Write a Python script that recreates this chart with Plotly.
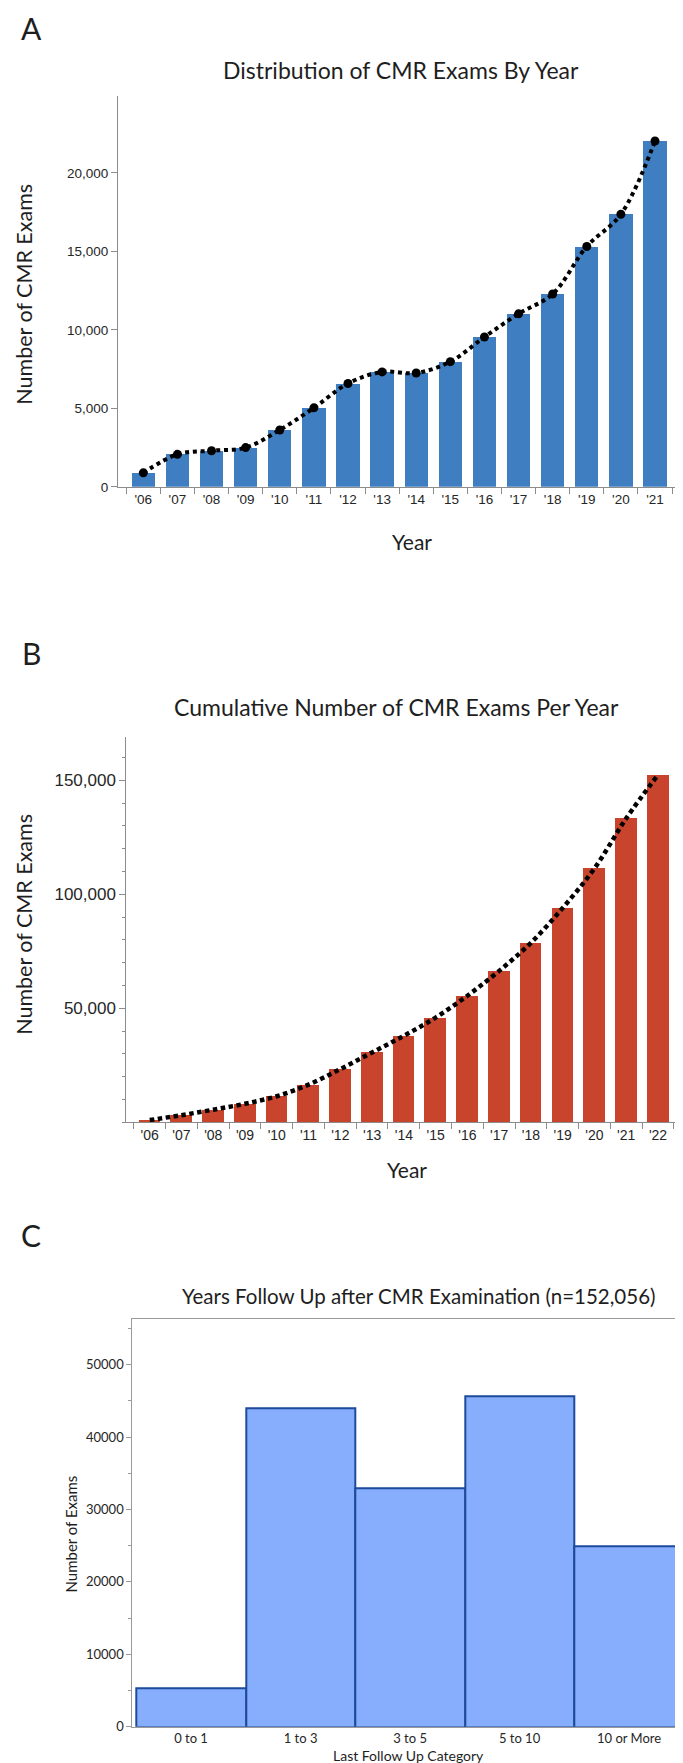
import plotly.graph_objects as go

W, H = 683, 1763

# ---------------- data ----------------
years_a = ["'06", "'07", "'08", "'09", "'10", "'11", "'12", "'13",
           "'14", "'15", "'16", "'17", "'18", "'19", "'20", "'21"]
exams_a = [890, 2070, 2300, 2500, 3620, 5030, 6580, 7320,
           7250, 7970, 9540, 11020, 12280, 15310, 17360, 22030]

years_b = ["'06", "'07", "'08", "'09", "'10", "'11", "'12", "'13", "'14",
           "'15", "'16", "'17", "'18", "'19", "'20", "'21", "'22"]
cumulative_b = [950, 3100, 5500, 8100, 11400, 16500, 23300, 30600, 37900,
                45900, 55500, 66400, 78700, 94000, 111350, 133300, 152400]

followup_cats = ["0 to 1", "1 to 3", "3 to 5", "5 to 10", "10 or More"]
followup_counts = [5275, 43900, 32900, 45600, 24900]

ticks_a = [0, 5000, 10000, 15000, 20000]
ticks_b = [50000, 100000, 150000]
minor_b = [10000 * i for i in range(17)]


def xd(a, b):
    return [a / W, b / W]


def yd(top, bottom):
    return [1 - bottom / H, 1 - top / H]


def px(x):
    return x / W


def py(y):
    return 1 - y / H


BLUE_A = "#3F7FC1"
RED_B = "#C8442C"
FILL_C = "#87AEFD"
EDGE_C = "#1D4A9A"
AX = "#8C8C8C"
TXT = "#1E1E1E"
TICKFAM = "Liberation Sans, Arial, sans-serif"
TITLEFONT = "Lato, Open Sans, sans-serif"

fig = go.Figure()

# Panel A
fig.add_trace(go.Bar(x=years_a, y=exams_a, marker=dict(color=BLUE_A, line=dict(width=0)),
                     width=0.685, xaxis="x", yaxis="y", showlegend=False))
fig.add_trace(go.Scatter(x=years_a, y=exams_a, mode="lines+markers",
                         line=dict(color="black", width=4, dash="4px,3.8px", shape="spline", smoothing=1.0),
                         marker=dict(color="black", size=9),
                         xaxis="x", yaxis="y", showlegend=False))

# Panel B
fig.add_trace(go.Bar(x=years_b, y=cumulative_b, marker=dict(color=RED_B, line=dict(width=0)),
                     width=0.683, xaxis="x2", yaxis="y2", showlegend=False))
fig.add_trace(go.Scatter(x=years_b, y=cumulative_b, mode="lines",
                         line=dict(color="black", width=4.5, dash="4.5px,3.5px", shape="spline", smoothing=1.0),
                         xaxis="x2", yaxis="y2", showlegend=False))

# Panel C
fig.add_trace(go.Bar(x=followup_cats, y=followup_counts,
                     marker=dict(color=FILL_C, line=dict(color=EDGE_C, width=2)),
                     width=1.0, xaxis="x3", yaxis="y3", showlegend=False))

fig.update_layout(
    width=W, height=H,
    margin=dict(l=0, r=0, t=0, b=0),
    paper_bgcolor="white", plot_bgcolor="white",
    bargap=0,
    xaxis=dict(domain=xd(110, 671.7), anchor="y", type="category",
               range=[-0.742, 15.724], tickson="boundaries",
               ticks="outside", ticklen=6, tickcolor=AX, tickwidth=1,
               showline=True, linecolor=AX, linewidth=1, showgrid=False,
               tickfont=dict(family=TICKFAM, size=13.5, color="#262626"), fixedrange=True),
    yaxis=dict(domain=yd(88.3, 481), anchor="x", range=[0, 24900],
               tickvals=ticks_a, tickformat=",",
               ticks="outside", ticklen=6, tickcolor=AX, tickwidth=1,
               showline=True, linecolor=AX, linewidth=1, showgrid=False, zeroline=False,
               tickfont=dict(family=TICKFAM, size=13.5, color="#262626")),
    xaxis2=dict(domain=xd(118.3, 671.7), anchor="y2", type="category",
                range=[-0.737, 16.683], tickson="boundaries",
                ticks="outside", ticklen=6, tickcolor=AX, tickwidth=1,
                showline=True, linecolor=AX, linewidth=1, showgrid=False,
                tickfont=dict(family=TICKFAM, size=14, color="#262626")),
    yaxis2=dict(domain=yd(732.3, 1119.3), anchor="x2", range=[0, 169000],
                tickvals=ticks_b, tickformat=",",
                ticks="outside", ticklen=6, tickcolor=AX, tickwidth=1,
                minor=dict(tickvals=minor_b, ticks="outside", ticklen=3, tickcolor=AX, showgrid=False),
                showline=True, linecolor=AX, linewidth=1, showgrid=False, zeroline=False,
                tickfont=dict(family=TICKFAM, size=17, color="#262626")),
    xaxis3=dict(domain=xd(124.3, 680.7), anchor="y3", type="category",
                range=[-0.5365, 4.5445], ticks="",
                showline=True, mirror=True, linecolor="#9A9A9A", linewidth=1, showgrid=False,
                tickfont=dict(family=TITLEFONT, size=13, color="#262626")),
    yaxis3=dict(domain=yd(1317.3, 1726.7), anchor="x3", range=[0, 56240],
                dtick=10000, tick0=0, tickformat="d",
                ticks="outside", ticklen=5, tickcolor="#9A9A9A", tickwidth=1,
                minor=dict(dtick=5000, tick0=0, ticks="outside", ticklen=3, tickcolor="#9A9A9A", showgrid=False),
                showline=True, mirror=True, linecolor="#9A9A9A", linewidth=1, showgrid=False, zeroline=False,
                tickfont=dict(family=TITLEFONT, size=13, color="#262626")),
)


def ann(text, x, y, size, angle=0, family=TITLEFONT):
    fig.add_annotation(text=text, x=px(x), y=py(y), xref="paper", yref="paper",
                       xanchor="center", yanchor="middle", showarrow=False,
                       textangle=angle, font=dict(family=family, size=size, color=TXT))


# Panel letters
ann("A", 23, 20, 30)
ann("B", 23, 648, 30)
ann("C", 23, 1233, 30)

# Panel A texts
ann("Distribution of CMR Exams By Year", 393, 62, 23)
ann("Number of CMR Exams", 16, 288, 21.5, angle=-90)
ann("Year", 404, 536, 21)

# Panel B texts
ann("Cumulative Number of CMR Exams Per Year", 388, 702, 23)
ann("Number of CMR Exams", 16, 921, 21.5, angle=-90)
ann("Year", 399, 1167, 21)

# Panel C texts
ann("Years Follow Up after CMR Examination (n=152,056)", 410.6, 1294, 20.5)
ann("Number of Exams", 63, 1533.5, 15, angle=-90)
ann("Last Follow Up Category", 400, 1755, 14)

fig.write_html("out.html")
